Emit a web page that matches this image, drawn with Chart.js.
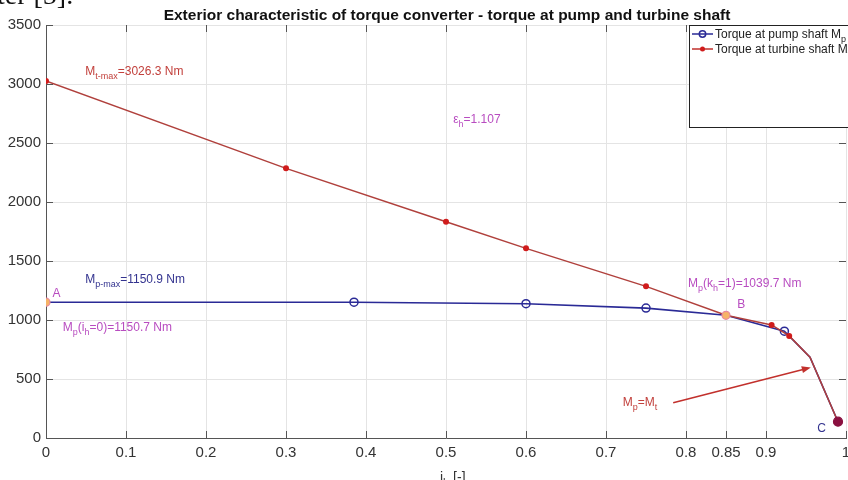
<!DOCTYPE html>
<html>
<head>
<meta charset="utf-8">
<script src="https://cdn.jsdelivr.net/npm/chart.js@4/dist/chart.umd.min.js"></script>
<style>
html, body { margin: 0; padding: 0; background: #fff; overflow: hidden; }
#wrap { position: relative; width: 848px; height: 492px; }
#cut { position: absolute; left: -3px; top: -21px; font: 28px "Liberation Serif"; color: #111; }
</style>
</head>
<body>
<div id="wrap">
  <canvas id="chart" width="848" height="492"></canvas>
  <div id="cut">ter [5].</div>
</div>
<script>
// pump shaft torque Mp
var pumpX = [0, 0.385, 0.6, 0.75, 0.85, 0.923, 0.955, 0.99];
var pumpY = [1150.7, 1150.9, 1138, 1101, 1039.7, 905, 685, 138];
// turbine shaft torque Mt
var turbineX = [0, 0.3, 0.5, 0.6, 0.75, 0.85, 0.907, 0.929, 0.955, 0.99];
var turbineY = [3026.3, 2285, 1832, 1607, 1285, 1039.7, 958, 865, 685, 138];
// characteristic points A, B and C
var pointX = [0, 0.85, 0.99];
var pointY = [1150.7, 1039.7, 138];
var xTicks = [0, 0.1, 0.2, 0.3, 0.4, 0.5, 0.6, 0.7, 0.8, 0.85, 0.9, 1];
var yTicks = [0, 500, 1000, 1500, 2000, 2500, 3000, 3500];

var titleText = 'Exterior characteristic of torque converter - torque at pump and turbine shaft';
var pumpLabel = [['Torque at pump shaft M', ''], ['p', 'sub']];
var turbineLabel = [['Torque at turbine shaft M', ''], ['t', 'sub']];

// text notes: [x, y, parts, colour]
var notes = [
  [0.049, 3080, [['M', ''], ['t-max', 'sub'], ['=3026.3 Nm', '']], '#c2403c'],
  [0.509, 2670, [['\u03b5', ''], ['h', 'sub'], ['=1.107', '']], '#b84cc0'],
  [0.049, 1310, [['M', ''], ['p-max', 'sub'], ['=1150.9 Nm', '']], '#33338f'],
  [0.008, 1192, [['A', '']], '#b84cc0'],
  [0.021, 905, [['M', ''], ['p', 'sub'], ['(i', ''], ['h', 'sub'], ['=0)=1150.7 Nm', '']], '#b84cc0'],
  [0.8025, 1276, [['M', ''], ['p', 'sub'], ['(k', ''], ['h', 'sub'], ['=1)=1039.7 Nm', '']], '#b84cc0'],
  [0.864, 1099, [['B', '']], '#b84cc0'],
  [0.721, 270, [['M', ''], ['p', 'sub'], ['=M', ''], ['t', 'sub']], '#c2403c'],
  [0.964, 51, [['C', '']], '#33338f']
];
// arrow from Mp=Mt note to the curve
var arrowFrom = [0.784, 298];
var arrowTo = [0.956, 598];

function toPoints(xs, ys) {
  var out = [];
  for (var i = 0; i < xs.length; i++) {
    out.push({ x: xs[i], y: ys[i] });
  }
  return out;
}

function drawRich(ctx, x, y, parts, color, size) {
  ctx.fillStyle = color;
  ctx.textBaseline = 'alphabetic';
  ctx.textAlign = 'left';
  for (var p of parts) {
    if (p[1] === 'sub') {
      ctx.font = (size - 3) + 'px "Liberation Sans"';
      ctx.fillText(p[0], x, y + 4);
    } else {
      ctx.font = size + 'px "Liberation Sans"';
      ctx.fillText(p[0], x, y);
    }
    x += ctx.measureText(p[0]).width;
  }
}

var extras = {
  id: 'extras',
  beforeDatasetsDraw: function (chart) {
    var ctx = chart.ctx;
    var a = chart.chartArea;
    var xs = chart.scales.x;
    var ys = chart.scales.y;
    ctx.save();
    ctx.strokeStyle = '#555';
    ctx.lineWidth = 1;
    ctx.beginPath();
    for (var v of xTicks) {
      var px = Math.round(xs.getPixelForValue(v)) + 0.5;
      ctx.moveTo(px, a.bottom); ctx.lineTo(px, a.bottom - 7);
      ctx.moveTo(px, a.top); ctx.lineTo(px, a.top + 7);
    }
    for (var w of yTicks) {
      var py = Math.round(ys.getPixelForValue(w)) + 0.5;
      ctx.moveTo(a.left, py); ctx.lineTo(a.left + 7, py);
      ctx.moveTo(a.right, py); ctx.lineTo(a.right - 7, py);
    }
    ctx.stroke();
    ctx.restore();
  },
  afterDraw: function (chart) {
    var ctx = chart.ctx;
    var xs = chart.scales.x;
    var ys = chart.scales.y;
    ctx.save();
    // title
    ctx.font = 'bold 15.5px "Liberation Sans"';
    ctx.fillStyle = '#111';
    ctx.textAlign = 'center';
    ctx.textBaseline = 'alphabetic';
    ctx.fillText(titleText, 447, 20);
    // x axis title
    drawRich(ctx, 440, 482, [['i', ''], ['h', 'sub'], [' [-]', '']], '#333', 14);

    // notes
    for (var n of notes) {
      drawRich(ctx, xs.getPixelForValue(n[0]), ys.getPixelForValue(n[1]), n[2], n[3], 12);
    }
    // arrow
    var x1 = xs.getPixelForValue(arrowFrom[0]), y1 = ys.getPixelForValue(arrowFrom[1]);
    var x2 = xs.getPixelForValue(arrowTo[0]), y2 = ys.getPixelForValue(arrowTo[1]);
    var ang = Math.atan2(y2 - y1, x2 - x1);
    ctx.strokeStyle = '#c2302c';
    ctx.fillStyle = '#c2302c';
    ctx.lineWidth = 1.5;
    ctx.beginPath();
    ctx.moveTo(x1, y1);
    ctx.lineTo(x2 - 6 * Math.cos(ang), y2 - 6 * Math.sin(ang));
    ctx.stroke();
    ctx.beginPath();
    ctx.moveTo(x2, y2);
    ctx.lineTo(x2 - 9 * Math.cos(ang) + 3.5 * Math.sin(ang), y2 - 9 * Math.sin(ang) - 3.5 * Math.cos(ang));
    ctx.lineTo(x2 - 9 * Math.cos(ang) - 3.5 * Math.sin(ang), y2 - 9 * Math.sin(ang) + 3.5 * Math.cos(ang));
    ctx.closePath();
    ctx.fill();

    // legend box
    ctx.fillStyle = '#fff';
    ctx.fillRect(689, 25, 170, 102);
    ctx.strokeStyle = '#222';
    ctx.lineWidth = 1;
    ctx.strokeRect(689.5, 25.5, 170, 102);
    var rows = [
      [34, '#2a2a96', pumpLabel, 'ring'],
      [49, '#c0312c', turbineLabel, 'dot']
    ];
    for (var r of rows) {
      ctx.strokeStyle = r[1];
      ctx.lineWidth = 1.5;
      ctx.beginPath();
      ctx.moveTo(692, r[0]); ctx.lineTo(713, r[0]);
      ctx.stroke();
      ctx.beginPath();
      if (r[3] === 'ring') {
        ctx.arc(702.5, r[0], 3.2, 0, Math.PI * 2);
        ctx.stroke();
      } else {
        ctx.fillStyle = '#d01c1c';
        ctx.arc(702.5, r[0], 2.5, 0, Math.PI * 2);
        ctx.fill();
      }
      drawRich(ctx, 715, r[0] + 4, r[2], '#222', 12);
    }
    ctx.restore();
  }
};

var ctx = document.getElementById('chart').getContext('2d');
new Chart(ctx, {
  type: 'scatter',
  data: {
    datasets: [
      {
        label: 'Torque at pump shaft Mp',
        data: toPoints(pumpX, pumpY),
        showLine: true,
        borderColor: '#2a2a96',
        borderWidth: 1.6,
        pointRadius: [0, 4, 4, 4, 0, 4, 0, 0],
        pointBorderWidth: 1.5,
        pointBorderColor: '#2a2a96',
        pointBackgroundColor: 'rgba(255,255,255,0)',
        order: 3
      },
      {
        label: 'Torque at turbine shaft Mt',
        data: toPoints(turbineX, turbineY),
        showLine: true,
        borderColor: '#b0403c',
        borderWidth: 1.5,
        pointRadius: [3, 3, 3, 3, 3, 0, 3, 3, 0, 0],
        pointBorderWidth: 0,
        pointBackgroundColor: '#d01c1c',
        order: 2
      },
      {
        label: 'points',
        data: toPoints(pointX, pointY),
        showLine: false,
        pointRadius: [4, 4, 4.5],
        pointBorderWidth: 1.2,
        pointBorderColor: ['#e88aa0', '#e88aa0', '#8a1040'],
        pointBackgroundColor: ['#f6b467', '#f6b467', '#8a1040'],
        order: 1
      }
    ]
  },
  options: {
    responsive: false,
    animation: false,
    layout: { autoPadding: false, padding: { top: 25, right: 2, bottom: 0, left: 0 } },
    plugins: { legend: { display: false }, tooltip: { enabled: false }, title: { display: false } },
    scales: {
      x: {
        type: 'linear',
        min: 0,
        max: 1,
        afterBuildTicks: function (scale) {
          scale.ticks = xTicks.map(function (v) { return { value: v }; });
        },
        afterFit: function (scale) {
          scale.height = 54;
          scale.paddingLeft = 0;
          scale.paddingRight = 0;
        },
        ticks: {
          autoSkip: false,
          maxRotation: 0,
          padding: 6,
          color: '#333',
          font: { family: 'Liberation Sans', size: 15 },
          callback: function (v) { return String(v); }
        },
        grid: { color: '#e4e4e4', tickLength: 0 },
        border: { color: '#555' }
      },
      y: {
        min: 0,
        max: 3500,
        afterBuildTicks: function (scale) {
          scale.ticks = yTicks.map(function (v) { return { value: v }; });
        },
        afterFit: function (scale) {
          scale.width = 46;
          scale.paddingTop = 0;
          scale.paddingBottom = 0;
        },
        ticks: {
          padding: 5,
          color: '#333',
          font: { family: 'Liberation Sans', size: 15 },
          callback: function (v) { return String(v); }
        },
        grid: { color: '#e4e4e4', tickLength: 0 },
        border: { color: '#555' }
      }
    }
  },
  plugins: [extras]
});
</script>
</body>
</html>
